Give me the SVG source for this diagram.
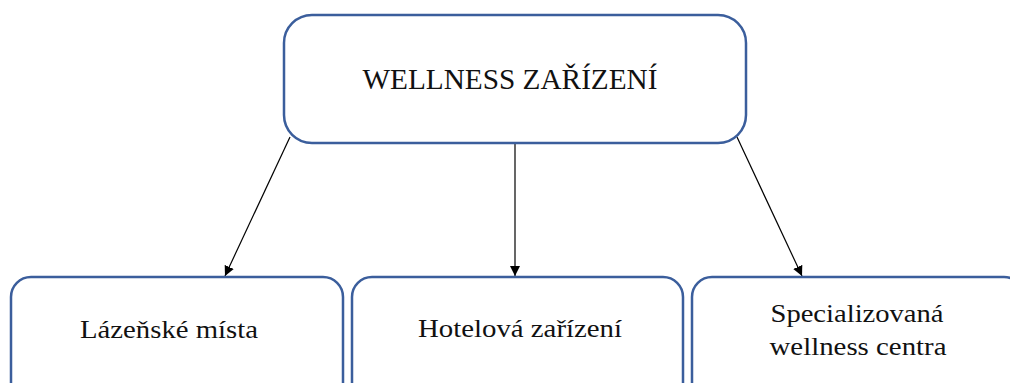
<svg xmlns="http://www.w3.org/2000/svg" width="1010" height="383" viewBox="0 0 1010 383">
<style>
.box{fill:#fff;stroke:#3b5e9c;stroke-width:2.5}
.t{font-family:"Liberation Serif","DejaVu Serif",serif;fill:#111;text-anchor:middle}
.c{stroke:#000;stroke-width:1.2;fill:none;marker-end:url(#ah)}
</style>
<defs>
<marker id="ah" viewBox="0 0 10 10" refX="10" refY="5" markerWidth="10" markerHeight="10" markerUnits="userSpaceOnUse" orient="auto">
<path d="M0,0 L10,5 L0,10 z" fill="#000"/>
</marker>
</defs>
<rect width="1010" height="383" fill="#fff"/>
<g id="connectors">
<line class="c" x1="290" y1="137" x2="225" y2="276"/>
<line class="c" x1="515" y1="143" x2="515" y2="276"/>
<line class="c" x1="737" y1="137" x2="802" y2="276"/>
</g>
<g id="node-top">
<rect class="box" x="284" y="15" width="462" height="128" rx="28"/>
<text class="t" x="510" y="89" font-size="30" textLength="295" lengthAdjust="spacingAndGlyphs">WELLNESS ZAŘÍZENÍ</text>
</g>
<g id="node-lazenske">
<rect class="box" x="11" y="277" width="332" height="130" rx="20"/>
<text class="t" x="169" y="338" font-size="26" textLength="178" lengthAdjust="spacingAndGlyphs">Lázeňské místa</text>
</g>
<g id="node-hotelova">
<rect class="box" x="352" y="277" width="331" height="130" rx="20"/>
<text class="t" x="520" y="337" font-size="26" textLength="204" lengthAdjust="spacingAndGlyphs">Hotelová zařízení</text>
</g>
<g id="node-specializovana">
<rect class="box" x="692" y="277" width="332" height="130" rx="20"/>
<text class="t" x="857" y="322" font-size="26" textLength="173" lengthAdjust="spacingAndGlyphs">Specializovaná</text>
<text class="t" x="858" y="355" font-size="26" textLength="177" lengthAdjust="spacingAndGlyphs">wellness centra</text>
</g>
</svg>
